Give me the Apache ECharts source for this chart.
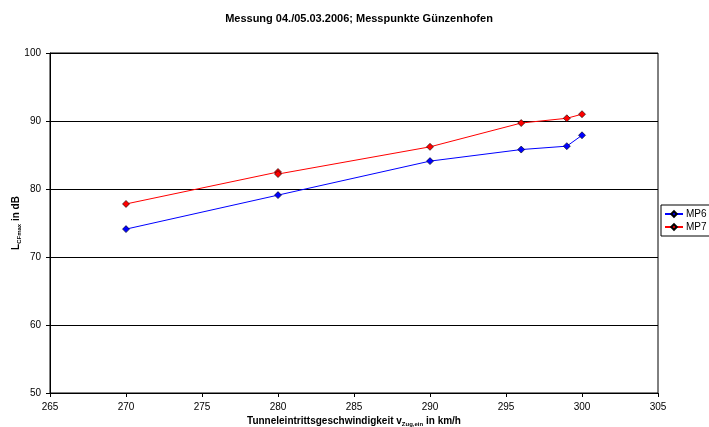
<!DOCTYPE html>
<html>
<head>
<meta charset="utf-8">
<script src="https://cdn.jsdelivr.net/npm/echarts@6/dist/echarts.min.js"></script>
<style>
  html, body { margin: 0; padding: 0; background: #fff; }
  #chart { width: 709px; height: 427px; }
</style>
</head>
<body>
<div id="chart"></div>
<script>
// Messpunkte: Geschwindigkeit (km/h) und Pegel (dB)
const speedsMP6 = [270, 280, 290, 296, 299, 300];
const levelsMP6 = [74.1, 79.1, 84.1, 85.8, 86.3, 87.9];
const speedsMP7 = [270, 280, 280, 290, 296, 299, 300];
const levelsMP7 = [77.8, 82.5, 82.2, 86.2, 89.7, 90.4, 91.0];

const pairs = (xs, ys) => xs.map((x, i) => [x, ys[i]]);

const chart = echarts.init(document.getElementById("chart"));
const font = "Liberation Sans, Arial, sans-serif";

chart.setOption({
  animation: false,
  textStyle: { fontFamily: font },
  title: {
    text: "Messung 04./05.03.2006; Messpunkte Günzenhofen",
    left: 354,
    textAlign: "center",
    top: 8,
    textStyle: { fontSize: 11, fontWeight: "bold", color: "#000", fontFamily: font },
  },
  grid: {
    left: 50,
    right: 51,
    top: 53,
    bottom: 34,
    outerBoundsMode: "none",
    show: true,
    borderColor: "#000",
    borderWidth: 1,
    backgroundColor: "#fff",
  },
  legend: {
    orient: "vertical",
    left: 661,
    top: 205,
    itemWidth: 18,
    itemHeight: 7,
    itemGap: 3,
    padding: [4, 6, 4, 3],
    borderColor: "#000",
    borderWidth: 1,
    backgroundColor: "#fff",
    textStyle: { fontSize: 10, color: "#000", fontFamily: font, padding: [0, 0, 0, -2] },
    data: ["MP6", "MP7"],
  },
  xAxis: {
    type: "value",
    min: 265,
    max: 305,
    interval: 5,
    name: "Tunneleintrittsgeschwindigkeit v{sub|Zug,ein} in km/h",
    nameLocation: "middle",
    nameGap: 22,
    nameMoveOverlap: false,
    nameTextStyle: {
      fontSize: 10,
      fontWeight: "bold",
      color: "#000",
      rich: { sub: { fontSize: 6, fontWeight: "bold", verticalAlign: "bottom", padding: [6, 0, 0, 0] } },
    },
    axisLine: { lineStyle: { color: "#000" } },
    axisTick: { show: true, length: 4, lineStyle: { color: "#000" } },
    axisLabel: { fontSize: 10, color: "#000", margin: 9 },
    splitLine: { show: false },
  },
  yAxis: {
    type: "value",
    min: 50,
    max: 100,
    interval: 10,
    name: "L{sub|CFmax} in dB",
    nameLocation: "middle",
    nameGap: 28,
    nameMoveOverlap: false,
    nameTextStyle: {
      fontSize: 10,
      fontWeight: "bold",
      color: "#000",
      rich: { sub: { fontSize: 6, fontWeight: "bold", padding: [6, 0, 0, 0] } },
    },
    axisLine: { show: true, lineStyle: { color: "#000" } },
    axisTick: { show: true, length: 4, lineStyle: { color: "#000" } },
    axisLabel: { fontSize: 10, color: "#000", margin: 9 },
    splitLine: { show: true, lineStyle: { color: "#000", width: 1 } },
  },
  series: [
    {
      name: "MP6",
      type: "line",
      data: pairs(speedsMP6, levelsMP6),
      symbol: "diamond",
      symbolSize: 7,
      itemStyle: { color: "#0000ff", borderColor: "#000", borderWidth: 0.6 },
      lineStyle: { color: "#0000ff", width: 1 },
    },
    {
      name: "MP7",
      type: "line",
      data: pairs(speedsMP7, levelsMP7),
      symbol: "diamond",
      symbolSize: 7,
      itemStyle: { color: "#ff0000", borderColor: "#000", borderWidth: 0.6 },
      lineStyle: { color: "#ff0000", width: 1 },
    },
  ],
});
</script>
</body>
</html>
